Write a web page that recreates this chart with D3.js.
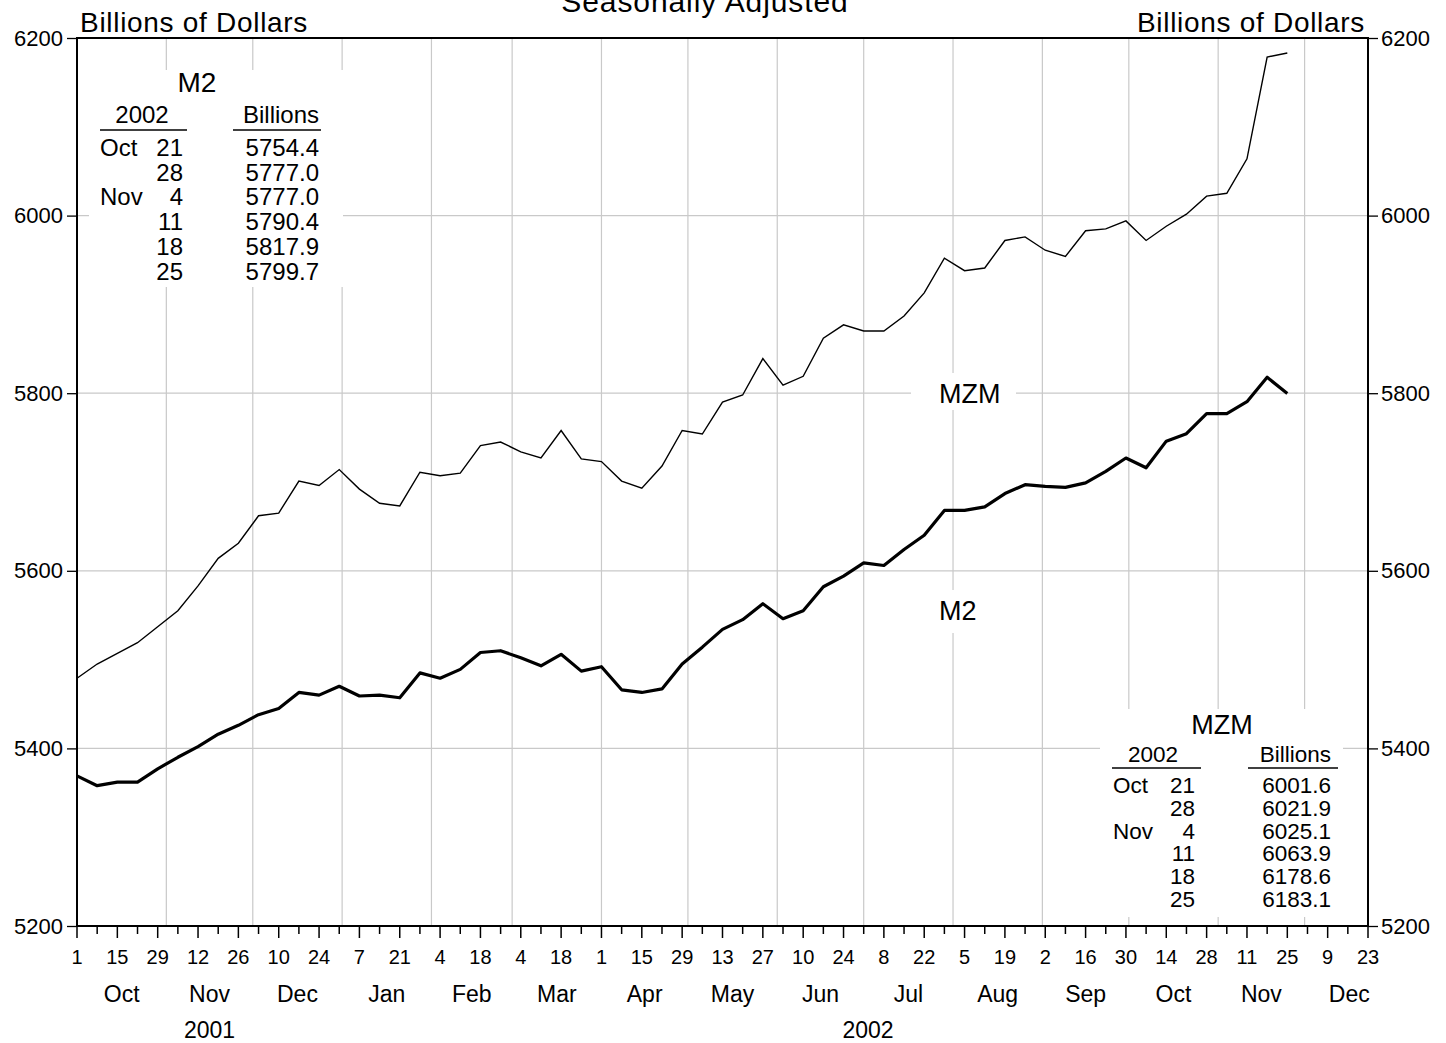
<!DOCTYPE html>
<html>
<head>
<meta charset="utf-8">
<script src="https://cdn.jsdelivr.net/npm/d3@7"></script>
<style>
body { margin: 0; background: #fff; }
svg { display: block; }
text { font-family: "Liberation Sans", Arial, Helvetica, sans-serif; fill: #000; }
</style>
</head>
<body>
<svg width="1446" height="1043"></svg>
<script>
// weekly levels, billions of dollars, week of Oct 1 2001 .. Nov 25 2002
var startDate = new Date(Date.UTC(2001, 9, 1));
var endDate = new Date(Date.UTC(2002, 11, 23));

var mzm = [5479, 5495, 5507, 5519, 5537, 5555, 5583, 5614, 5631, 5662,
           5665, 5701, 5696, 5714, 5692, 5676, 5673, 5711, 5707, 5710,
           5741, 5745, 5734, 5727, 5758, 5726, 5723, 5701, 5693, 5718,
           5758, 5754, 5790, 5798, 5839, 5809, 5819, 5862, 5877, 5870,
           5870, 5887, 5913, 5952, 5938, 5941, 5972, 5976, 5961, 5954,
           5983, 5985, 5994, 5972, 5988, 6001.6, 6021.9, 6025.1, 6063.9, 6178.6,
           6183.1];

var m2 = [5369, 5358, 5362, 5362, 5377, 5390, 5402, 5416, 5426, 5438,
          5445, 5463, 5460, 5470, 5459, 5460, 5457, 5485, 5479, 5489,
          5508, 5510, 5502, 5493, 5506, 5487, 5492, 5466, 5463, 5467,
          5495, 5514, 5534, 5545, 5563, 5546, 5555, 5582, 5594, 5609,
          5606, 5624, 5640, 5668, 5668, 5672, 5687, 5697, 5695, 5694,
          5699, 5712, 5727, 5716, 5746, 5754.4, 5777.0, 5777.0, 5790.4, 5817.9,
          5799.7];

var yTicks = [5200, 5400, 5600, 5800, 6000, 6200];
var gridValues = [5400, 5600, 5800, 6000];

var tableMonths = ["Oct", "", "Nov", "", "", ""];
var tableDays = ["21", "28", "4", "11", "18", "25"];
var m2Table = [5754.4, 5777.0, 5777.0, 5790.4, 5817.9, 5799.7];
var mzmTable = [6001.6, 6021.9, 6025.1, 6063.9, 6178.6, 6183.1];

var svg = d3.select("svg");
// note: "top" is taken by window.top, so the plot edges get their own names
var plotL = 77, plotR = 1368, plotT = 38, plotB = 926;

var x = d3.scaleUtc().domain([startDate, endDate]).range([plotL, plotR]);
var y = d3.scaleLinear().domain([5200, 6200]).range([plotB, plotT]);

var weeks = d3.utcMonday.range(startDate, d3.utcDay.offset(endDate, 1));
var months = d3.utcMonth.range(d3.utcMonth.ceil(d3.utcDay.offset(startDate, 1)), endDate);

// grid
var grid = svg.append("g").attr("stroke", "#c9c9c9").attr("stroke-width", 1.2);
grid.selectAll(".h").data(gridValues).enter().append("line")
    .attr("x1", plotL).attr("x2", plotR)
    .attr("y1", function(d) { return y(d); }).attr("y2", function(d) { return y(d); });
grid.selectAll(".v").data(months).enter().append("line")
    .attr("x1", function(d) { return x(d); }).attr("x2", function(d) { return x(d); })
    .attr("y1", plotT).attr("y2", plotB);

// white boxes that knock out the grid behind the text blocks
function knockout(x0, y0, x1, y1) {
    svg.append("rect").attr("x", x0).attr("y", y0)
        .attr("width", x1 - x0).attr("height", y1 - y0)
        .attr("fill", "#fff");
}
knockout(89, 70, 343, 287);
knockout(1100, 709, 1343, 917);
knockout(911, 373, 1016, 410);
knockout(926, 590, 992, 633);

// series
var line = d3.line()
    .x(function(d, i) { return x(weeks[i]); })
    .y(function(d) { return y(d); });

svg.append("path").datum(mzm)
    .attr("d", line)
    .attr("fill", "none").attr("stroke", "#000").attr("stroke-width", 1.4);
svg.append("path").datum(m2)
    .attr("d", line)
    .attr("fill", "none").attr("stroke", "#000").attr("stroke-width", 3.2)
    .attr("stroke-linejoin", "round");

// frame
svg.append("rect").attr("x", plotL).attr("y", plotT)
    .attr("width", plotR - plotL).attr("height", plotB - plotT)
    .attr("fill", "none").attr("stroke", "#000").attr("stroke-width", 2);

// y axes
var yl = svg.append("g").attr("transform", "translate(" + plotL + ",0)")
    .call(d3.axisLeft(y).tickValues(yTicks).tickSize(10).tickPadding(4).tickFormat(d3.format("d")));
var yr = svg.append("g").attr("transform", "translate(" + plotR + ",0)")
    .call(d3.axisRight(y).tickValues(yTicks).tickSize(10).tickPadding(3).tickFormat(d3.format("d")));
[yl, yr].forEach(function(a) {
    a.select(".domain").remove();
    a.attr("font-family", null).attr("font-size", null);
    a.selectAll("line").attr("stroke-width", 1.3);
    a.selectAll("text").style("font-size", "22px");
});

// x axis: weekly ticks, every other one labelled
var xt = svg.append("g");
xt.selectAll("line").data(weeks).enter().append("line")
    .attr("x1", function(d) { return x(d); }).attr("x2", function(d) { return x(d); })
    .attr("y1", plotB)
    .attr("y2", function(d, i) { return plotB + (i % 2 == 0 ? 12 : 8); })
    .attr("stroke", "#000").attr("stroke-width", 1.5);
xt.selectAll("text").data(weeks.filter(function(d, i) { return i % 2 == 0; })).enter().append("text")
    .attr("x", function(d) { return x(d); })
    .attr("y", 964)
    .attr("text-anchor", "middle")
    .style("font-size", "20px")
    .text(function(d) { return d.getUTCDate(); });

// month and year labels, centred on the period (clipped at the start of the axis)
function midX(a, b) {
    var s = a < startDate ? startDate : a;
    return (x(s) + x(b)) / 2;
}
svg.append("g").selectAll("text")
    .data(d3.utcMonth.range(startDate, endDate)).enter().append("text")
    .attr("x", function(d) { return midX(d, d3.utcMonth.offset(d, 1)); })
    .attr("y", 1002)
    .attr("text-anchor", "middle")
    .style("font-size", "23px")
    .text(d3.utcFormat("%b"));
svg.append("g").selectAll("text")
    .data(d3.utcYear.range(d3.utcYear.floor(startDate), endDate)).enter().append("text")
    .attr("x", function(d) { return midX(d, d3.utcYear.offset(d, 1)); })
    .attr("y", 1038)
    .attr("text-anchor", "middle")
    .style("font-size", "23px")
    .text(d3.utcFormat("%Y"));

// titles
svg.append("text").attr("x", 705).attr("y", 12).attr("text-anchor", "middle")
    .style("font-size", "30px").style("letter-spacing", "0.9px")
    .text("Seasonally Adjusted");
svg.append("text").attr("x", 80).attr("y", 32)
    .style("font-size", "28px").style("letter-spacing", "0.7px")
    .text("Billions of Dollars");
svg.append("text").attr("x", 1365).attr("y", 32).attr("text-anchor", "end")
    .style("font-size", "28px").style("letter-spacing", "0.7px")
    .text("Billions of Dollars");

// series labels
svg.append("text").attr("x", 939).attr("y", 403)
    .style("font-size", "27px").text("MZM");
svg.append("text").attr("x", 939).attr("y", 620)
    .style("font-size", "27px").text("M2");

// the small tables of latest weeks
function drawTable(t, values) {
    var g = svg.append("g");
    g.append("text").attr("x", t.titleX).attr("y", t.titleY)
        .attr("text-anchor", "middle").style("font-size", t.titleSize + "px").text(t.title);
    g.append("text").attr("x", t.yearX).attr("y", t.headY)
        .attr("text-anchor", "middle").style("font-size", t.size + "px").text("2002");
    g.append("text").attr("x", t.valX).attr("y", t.headY)
        .attr("text-anchor", "end").style("font-size", t.size + "px").text("Billions");
    g.append("line").attr("x1", t.rule1[0]).attr("x2", t.rule1[1])
        .attr("y1", t.ruleY).attr("y2", t.ruleY).attr("stroke", "#000").attr("stroke-width", 1.4);
    g.append("line").attr("x1", t.rule2[0]).attr("x2", t.rule2[1])
        .attr("y1", t.ruleY).attr("y2", t.ruleY).attr("stroke", "#000").attr("stroke-width", 1.4);
    values.forEach(function(v, i) {
        var ry = t.rowY + i * t.rowStep;
        g.append("text").attr("x", t.monX).attr("y", ry)
            .style("font-size", t.size + "px").text(tableMonths[i]);
        g.append("text").attr("x", t.dayX).attr("y", ry).attr("text-anchor", "end")
            .style("font-size", t.size + "px").text(tableDays[i]);
        g.append("text").attr("x", t.valX).attr("y", ry).attr("text-anchor", "end")
            .style("font-size", t.size + "px").text(d3.format(".1f")(v));
    });
}

drawTable({title: "M2", titleX: 197, titleY: 92, titleSize: 28, size: 24,
           yearX: 142, headY: 123, ruleY: 130, rule1: [100, 187], rule2: [233, 321],
           rowY: 156, rowStep: 24.7, monX: 100, dayX: 183, valX: 319}, m2Table);
drawTable({title: "MZM", titleX: 1222, titleY: 734, titleSize: 27, size: 22.5,
           yearX: 1153, headY: 762, ruleY: 768, rule1: [1112, 1201], rule2: [1248, 1338],
           rowY: 793, rowStep: 22.8, monX: 1113, dayX: 1195, valX: 1331}, mzmTable);
</script>
</body>
</html>
